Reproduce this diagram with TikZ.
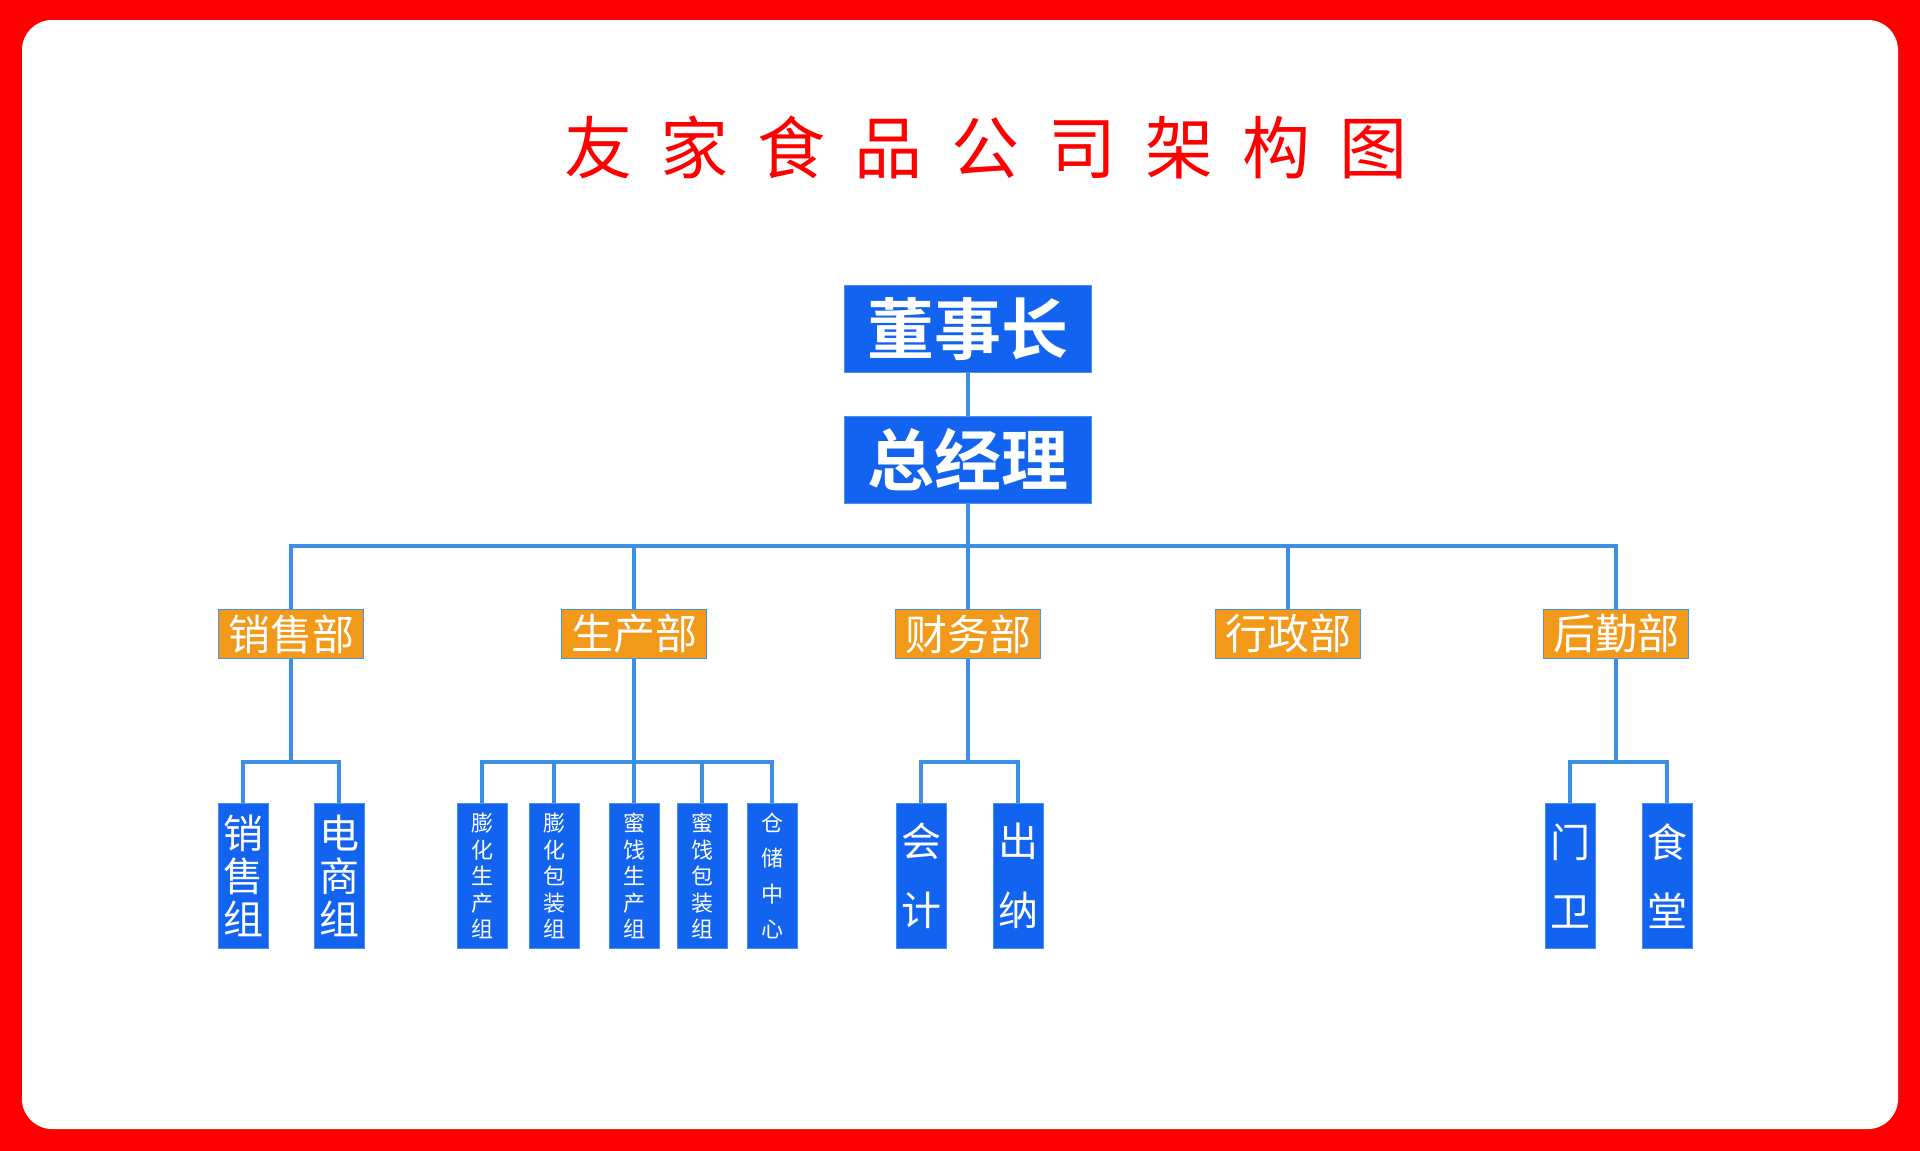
\documentclass[tikz,border=0pt]{standalone}
\usepackage{fontspec}
\newfontfamily\cjk{Noto Sans CJK SC}
\newfontfamily\cjkb{Noto Sans CJK SC Bold}
\definecolor{bred}{RGB}{255,0,0}
\definecolor{boxblue}{RGB}{18,100,240}
\definecolor{edgeblue}{RGB}{70,145,235}
\definecolor{linkblue}{RGB}{62,142,230}
\definecolor{deptorange}{RGB}{242,153,26}
\begin{document}
\begin{tikzpicture}[x=1pt,y=-1pt,
  topbox/.style={draw=edgeblue,line width=1.5pt,fill=boxblue,text=white,minimum width=247pt,minimum height=87pt,inner sep=0pt,font=\cjkb\fontsize{67}{67}\selectfont},
  deptbox/.style={draw=edgeblue,line width=1.5pt,fill=deptorange,text=white,minimum width=145pt,minimum height=49pt,inner sep=0pt,font=\cjk\fontsize{42}{42}\selectfont},
  leafbox/.style={draw=edgeblue,line width=1pt,fill=boxblue,text=white,minimum width=50pt,minimum height=145pt,inner sep=0pt,align=center},
  bigleaf/.style={leafbox,font=\cjk\fontsize{40}{43}\selectfont},
  smallleaf/.style={leafbox,font=\cjk\fontsize{22}{26.6}\selectfont},
  midleaf/.style={leafbox,font=\cjk\fontsize{22}{35.5}\selectfont},
  pairleaf/.style={leafbox,font=\cjk\fontsize{40}{69}\selectfont},
  link/.style={draw=linkblue,line width=4pt}
]
\useasboundingbox (0,0) rectangle (1920,1151);
\fill[bred] (0,0) rectangle (1920,1151);
\fill[white,rounded corners=30pt] (22,20) rectangle (1898,1129);

\node[text=bred,font=\cjk\fontsize{68}{68}\selectfont,inner sep=0pt] (title) at (986,147)
  {友\hspace{29pt}家\hspace{29pt}食\hspace{29pt}品\hspace{29pt}公\hspace{29pt}司\hspace{29pt}架\hspace{29pt}构\hspace{29pt}图};

\node[topbox] (dsz) at (968,329) {董事长};
\node[topbox] (zjl) at (968,460) {总经理};

\node[deptbox] (d1) at (291,634) {销售部};
\node[deptbox] (d2) at (634,634) {生产部};
\node[deptbox] (d3) at (968,634) {财务部};
\node[deptbox] (d4) at (1288,634) {行政部};
\node[deptbox] (d5) at (1616,634) {后勤部};

\node[bigleaf] (l1) at (243,876) {销\\售\\组};
\node[bigleaf] (l2) at (339,876) {电\\商\\组};
\node[smallleaf] (l3) at (482,876) {膨\\化\\生\\产\\组};
\node[smallleaf] (l4) at (554,876) {膨\\化\\包\\装\\组};
\node[smallleaf] (l5) at (634,876) {蜜\\饯\\生\\产\\组};
\node[smallleaf] (l6) at (702,876) {蜜\\饯\\包\\装\\组};
\node[midleaf] (l7) at (772,876) {仓\\储\\中\\心};
\node[pairleaf] (l8) at (921,876) {会\\计};
\node[pairleaf] (l9) at (1018,876) {出\\纳};
\node[pairleaf] (l10) at (1570,876) {门\\卫};
\node[pairleaf] (l11) at (1667,876) {食\\堂};

\coordinate (bus) at (968,546);
\coordinate (s1) at (d1.south |- 0,762);
\coordinate (s2) at (d2.south |- 0,762);
\coordinate (s3) at (d3.south |- 0,762);
\coordinate (s5) at (d5.south |- 0,762);

\draw[link] (dsz.south) -- (zjl.north);
\draw[link] (zjl.south) -- (bus);
\draw[link] (bus) -| (d1.north);
\draw[link] (bus) -| (d2.north);
\draw[link] (bus) -- (d3.north);
\draw[link] (bus) -| (d4.north);
\draw[link] (bus) -| (d5.north);

\draw[link] (d1.south) -- (s1);
\draw[link] (s1) -| (l1.north);
\draw[link] (s1) -| (l2.north);

\draw[link] (d2.south) -- (s2);
\draw[link] (s2) -| (l3.north);
\draw[link] (s2) -| (l4.north);
\draw[link] (s2) -- (l5.north);
\draw[link] (s2) -| (l6.north);
\draw[link] (s2) -| (l7.north);

\draw[link] (d3.south) -- (s3);
\draw[link] (s3) -| (l8.north);
\draw[link] (s3) -| (l9.north);

\draw[link] (d5.south) -- (s5);
\draw[link] (s5) -| (l10.north);
\draw[link] (s5) -| (l11.north);
\end{tikzpicture}
\end{document}
